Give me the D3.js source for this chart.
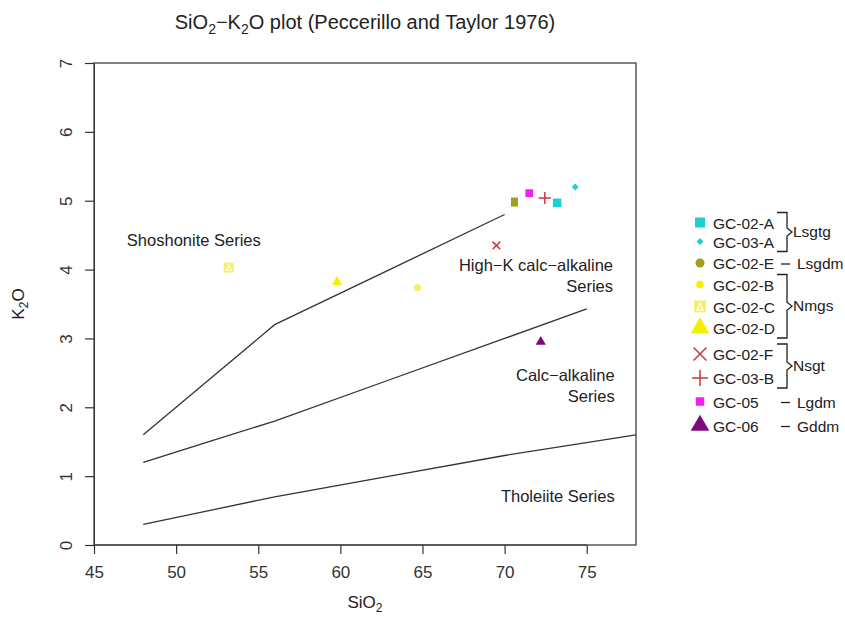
<!DOCTYPE html>
<html>
<head>
<meta charset="utf-8">
<script src="https://cdn.jsdelivr.net/npm/d3@7.9.0/dist/d3.min.js"></script>
<style>
  body { margin: 0; background: #fff; }
  svg { font-family: "Liberation Sans", Arial, sans-serif; }
</style>
</head>
<body>
<svg id="chart" width="845" height="626"></svg>
<script>
// samples and their chemistry (wt%)
const samples = ['GC-02-A', 'GC-03-A', 'GC-02-E', 'GC-02-B', 'GC-02-C', 'GC-02-D', 'GC-02-F', 'GC-03-B', 'GC-05', 'GC-06'];
const sio2 = [73.2, 74.3, 70.6, 64.7, 53.2, 59.8, 69.5, 72.45, 71.5, 72.2];
const k2o = [4.97, 5.2, 4.98, 3.74, 4.03, 3.82, 4.35, 5.04, 5.11, 2.95];

// rock-type groups for the legend braces
const groups = [
  { name: 'Lsgtg', first: 0, last: 1 },
  { name: 'Lsgdm', first: 2, last: 2 },
  { name: 'Nmgs', first: 3, last: 5 },
  { name: 'Nsgt', first: 6, last: 7 },
  { name: 'Lgdm', first: 8, last: 8 },
  { name: 'Gddm', first: 9, last: 9 }
];

// Peccerillo & Taylor boundaries
const thoSi = [48, 52, 56, 63, 70, 78];
const thoK = [0.3, 0.5, 0.7, 1.0, 1.3, 1.6];
const caSi = [48, 52, 56, 63, 70, 75];
const caK = [1.2, 1.5, 1.8, 2.4, 3.0, 3.43];
const hkSi = [48, 52, 56, 63, 70];
const hkK = [1.6, 2.4, 3.2, 4.0, 4.8];

const xTicks = [45, 50, 55, 60, 65, 70, 75];
const yTicks = [0, 1, 2, 3, 4, 5, 6, 7];

// symbol styles per sample
const style = {
  'GC-02-A': { type: d3.symbolSquare, size: 72, fill: '#1ecfd0', leg: 100 },
  'GC-03-A': { type: d3.symbolSquare, size: 24, rot: 45, fill: '#1ecfd0', leg: 24 },
  'GC-02-E': { type: 'rect', w: 7, h: 9, fill: '#9f9f22', legType: d3.symbolCircle, leg: 64 },
  'GC-02-B': { type: d3.symbolCircle, size: 40, fill: '#f3ef6e', legFill: '#f5f000', leg: 45 },
  'GC-02-C': { type: 'pch14', size: 10, fill: '#f3ef72', leg: 12 },
  'GC-02-D': { type: d3.symbolTriangle, size: 45, fill: '#f5f000', leg: 150 },
  'GC-02-F': { type: d3.symbolTimes, size: 40, stroke: '#c8373b', leg: 110 },
  'GC-03-B': { type: d3.symbolPlus, size: 50, stroke: '#c8373b', leg: 85 },
  'GC-05': { type: d3.symbolSquare, size: 60, fill: '#f020f0', leg: 72 },
  'GC-06': { type: d3.symbolTriangle, size: 45, fill: '#7d0a7d', leg: 150 }
};

const svg = d3.select('#chart');
const margin = { left: 94, top: 63, right: 209, bottom: 81 };
const W = 845, H = 626;

const x = d3.scaleLinear().domain([45, 78]).range([margin.left, W - margin.right]);
const y = d3.scaleLinear().domain([0, 7]).range([H - margin.bottom, margin.top]);

const ink = '#333';

// title
const title = svg.append('text')
  .attr('x', (x.range()[0] + x.range()[1]) / 2).attr('y', 29)
  .attr('text-anchor', 'middle').attr('font-size', 20).attr('fill', '#222');
title.append('tspan').text('SiO');
title.append('tspan').text('2').attr('font-size', 14).attr('dy', 5);
title.append('tspan').text('\u2212K').attr('dy', -5);
title.append('tspan').text('2').attr('font-size', 14).attr('dy', 5);
title.append('tspan').text('O plot (Peccerillo and Taylor 1976)').attr('dy', -5);

// box
svg.append('rect')
  .attr('x', x(45)).attr('y', y(7))
  .attr('width', x(78) - x(45)).attr('height', y(0) - y(7))
  .attr('fill', 'none').attr('stroke', ink).attr('stroke-width', 1.2);

// x axis
const xAxis = svg.append('g').attr('transform', `translate(0,${y(0)})`)
  .call(d3.axisBottom(x).tickValues(xTicks).tickSize(9).tickPadding(12).tickSizeOuter(0));
xAxis.select('.domain').attr('stroke', ink).attr('d', `M${x(45)},0H${x(75)}`);
xAxis.selectAll('.tick line').attr('stroke', ink).attr('stroke-width', 1.2);
xAxis.selectAll('.tick text').attr('font-size', 17).attr('fill', '#333')
  .attr('font-family', '"Liberation Sans", Arial, sans-serif');

// y axis
const yAxis = svg.append('g').attr('transform', `translate(${x(45)},0)`)
  .call(d3.axisLeft(y).tickValues(yTicks).tickSize(9).tickSizeOuter(0));
yAxis.select('.domain').attr('stroke', ink);
yAxis.selectAll('.tick line').attr('stroke', ink).attr('stroke-width', 1.2);
yAxis.selectAll('.tick text').remove();
yAxis.selectAll('.tick').append('text')
  .attr('transform', 'translate(-28,0) rotate(-90)')
  .attr('text-anchor', 'middle').attr('dy', '0.35em')
  .attr('font-size', 17).attr('fill', '#333')
  .text(d => d);

// axis titles
const xl = svg.append('text').attr('x', (x.range()[0] + x.range()[1]) / 2).attr('y', 608)
  .attr('text-anchor', 'middle').attr('font-size', 17).attr('fill', '#222');
xl.append('tspan').text('SiO');
xl.append('tspan').text('2').attr('font-size', 12).attr('dy', 4);

const yl = svg.append('text')
  .attr('transform', `translate(24,${(y(0) + y(7)) / 2}) rotate(-90)`)
  .attr('text-anchor', 'middle').attr('font-size', 17).attr('fill', '#222');
yl.append('tspan').text('K');
yl.append('tspan').text('2').attr('font-size', 12).attr('dy', 4);
yl.append('tspan').text('O').attr('dy', -4);

// boundary lines
const line = d3.line().x(d => x(d[0])).y(d => y(d[1]));
[[thoSi, thoK], [caSi, caK], [hkSi, hkK]].forEach(([xs, ys]) => {
  svg.append('path')
    .attr('d', line(d3.zip(xs, ys)))
    .attr('fill', 'none').attr('stroke', ink).attr('stroke-width', 1.3);
});

// field names
const fieldText = (lines, xv, yv, anchor) => {
  lines.forEach((t, i) => {
    svg.append('text').attr('x', x(xv)).attr('y', y(yv) + i * 21)
      .attr('text-anchor', anchor).attr('font-size', 16.5).attr('fill', '#222').text(t);
  });
};
fieldText(['Shoshonite Series'], 47.0, 4.34, 'start');
fieldText(['High\u2212K calc\u2212alkaline', 'Series'], 76.6, 3.98, 'end');
fieldText(['Calc\u2212alkaline', 'Series'], 76.7, 2.38, 'end');
fieldText(['Tholeiite Series'], 76.7, 0.62, 'end');

// symbol drawing helper
function drawSymbol(g, s, size, legend) {
  const type = legend && s.legType ? s.legType : s.type;
  const fill = legend && s.legFill ? s.legFill : s.fill;
  if (type === 'pch14') {
    const h = size / 2;
    g.append('rect').attr('x', -h).attr('y', -h).attr('width', size).attr('height', size)
      .attr('fill', fill);
    g.append('path').attr('d', `M${-h * 0.5},${h * 0.6}L0,${-h * 0.55}L${h * 0.5},${h * 0.6}Z`)
      .attr('fill', 'none').attr('stroke', '#fffbe0').attr('stroke-width', 1.2);
    return;
  }
  if (type === 'rect') {
    g.append('rect').attr('x', -s.w / 2).attr('y', -s.h / 2).attr('width', s.w).attr('height', s.h)
      .attr('fill', fill);
    return;
  }
  const p = g.append('path').attr('d', d3.symbol(type, size)());
  if (s.rot) p.attr('transform', `rotate(${s.rot})`);
  if (s.stroke) p.attr('fill', 'none').attr('stroke', s.stroke).attr('stroke-width', 1.5);
  else p.attr('fill', fill);
}

// points
samples.forEach((name, i) => {
  const g = svg.append('g').attr('transform', `translate(${x(sio2[i])},${y(k2o[i])})`);
  drawSymbol(g, style[name], style[name].size, false);
});

// legend
const rowGap = [0, 19, 21.5, 21.5, 22, 21.5, 26, 24, 23.5, 24];
const legTop = 222.5;
const legY = d3.cumsum(rowGap).map(v => legTop + v);
const legX = 700;
const leg = svg.append('g');
samples.forEach((name, i) => {
  const g = leg.append('g').attr('transform', `translate(${legX},${legY[i]})`);
  drawSymbol(g, style[name], style[name].leg, true);
  leg.append('text').attr('x', legX + 13).attr('y', legY[i] + 6)
    .attr('font-size', 15.5).attr('fill', '#222').text(name);
});

groups.forEach(gr => {
  const y0 = legY[gr.first], y1 = legY[gr.last];
  if (gr.first === gr.last) {
    leg.append('line').attr('x1', 781).attr('x2', 790).attr('y1', y0 + 1).attr('y2', y0 + 1)
      .attr('stroke', '#222').attr('stroke-width', 1.3);
    leg.append('text').attr('x', 797).attr('y', y0 + 6)
      .attr('font-size', 15.5).attr('fill', '#222').text(gr.name);
  } else {
    const top = y0 - 10, bot = y1 + 10, mid = (top + bot) / 2;
    leg.append('path')
      .attr('d', `M777,${top}H787V${mid - 4}L792,${mid}L787,${mid + 4}V${bot}H777`)
      .attr('fill', 'none').attr('stroke', '#222').attr('stroke-width', 1.3);
    leg.append('text').attr('x', 793).attr('y', mid + 5)
      .attr('font-size', 15.5).attr('fill', '#222').text(gr.name);
  }
});
</script>
</body>
</html>
